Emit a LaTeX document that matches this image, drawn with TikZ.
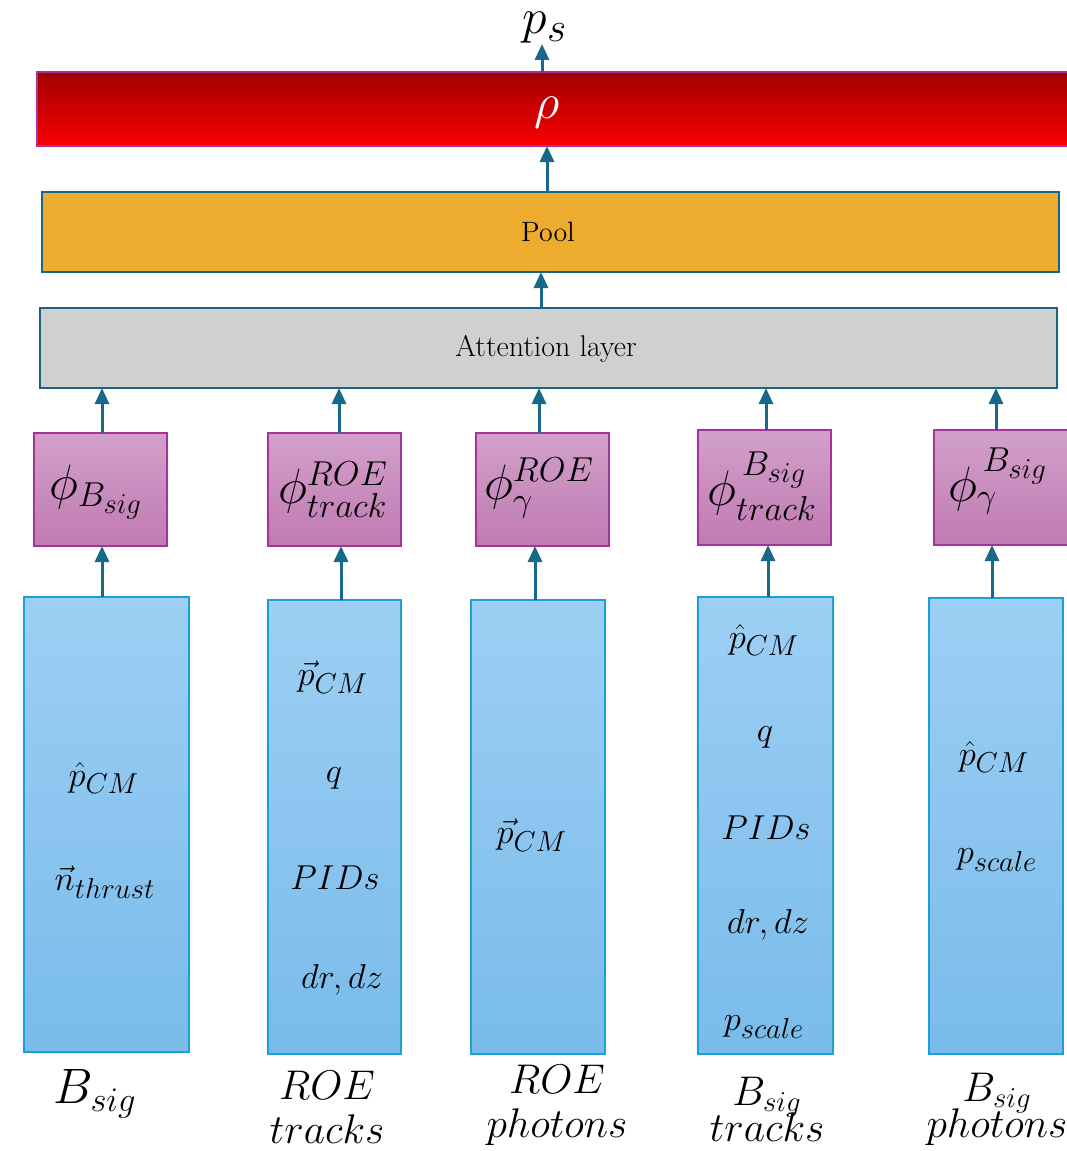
\documentclass[tikz,border=0pt]{standalone}
\usepackage{amsmath}
\usetikzlibrary{arrows.meta}
\DeclareMathSizes{18.5}{18.5}{14}{11}
\DeclareMathSizes{19.5}{19.5}{14.5}{11.5}
\DeclareMathSizes{24}{24}{18}{14}
\DeclareMathSizes{25}{25}{18.5}{14.5}
\DeclareMathSizes{26}{26}{19.5}{15}
\definecolor{arrowc}{HTML}{17688A}
\definecolor{boxedge}{HTML}{1A6585}
\definecolor{poolc}{HTML}{EDAC2D}
\definecolor{attc}{HTML}{D0D0D0}
\definecolor{phiedge}{HTML}{A8329A}
\definecolor{phitop}{HTML}{D2A0CA}
\definecolor{phibot}{HTML}{C07AB3}
\definecolor{blueedge}{HTML}{1AA0D8}
\definecolor{bluetop}{HTML}{9DCFF4}
\definecolor{bluebot}{HTML}{79BBEA}
\definecolor{redtop}{HTML}{A00000}
\definecolor{redmid}{HTML}{EA0000}
\definecolor{redbot}{HTML}{FA0000}
\begin{document}
\begin{tikzpicture}[x=0.5pt,y=-0.5pt,
  sz/.style 2 args={minimum width=#1*0.5pt, minimum height=#2*0.5pt, inner sep=0pt, outer sep=0pt},
  layerbox/.style={draw=boxedge, line width=1.2pt},
  redbox/.style={draw=phiedge, line width=1pt, top color=redtop, middle color=redmid, bottom color=redbot},
  phibox/.style={draw=phiedge, line width=1pt, top color=phitop, bottom color=phibot},
  bluebox/.style={draw=blueedge, line width=1pt, top color=bluetop, bottom color=bluebot},
  arr/.style={draw=arrowc, line width=1.5pt, -{Triangle[width=7pt,length=8pt]}},
  feat/.style={font=\fontsize{18.5}{22}\selectfont, inner sep=0pt},
  phit/.style={font=\fontsize{25}{28}\selectfont, inner sep=0pt},
  lab/.style={font=\fontsize{19.5}{22}\selectfont, align=center, inner sep=0pt},
]
\useasboundingbox (0,0) rectangle (1066,1151);

% top layers
\node[redbox, sz={1035}{74}] (rho) at (554.5,109) {};
\node[text=white, font=\fontsize{24}{26}\selectfont, inner sep=0pt] (rhot) at (547,113) {$\rho$};
\node[font=\fontsize{26}{28}\selectfont, inner sep=0pt] (ps) at (545,28) {$p_s$};
\node[layerbox, fill=poolc, sz={1017}{80}] (pool) at (550.5,232) {};
\node[font=\fontsize{14}{16}\selectfont] (poolt) at (548,232) {Pool};
\node[layerbox, fill=attc, sz={1017}{80}] (att) at (548.5,348) {};
\node[font=\fontsize{15}{17}\selectfont] (attt) at (546,349) {Attention layer};

% phi boxes
\node[phibox, sz={133}{113}] (phi1) at (100.5,489.5) {};
\node[phibox, sz={133}{113}] (phi2) at (334.5,489.5) {};
\node[phibox, sz={133}{113}] (phi3) at (542.5,489.5) {};
\node[phibox, sz={133}{115}] (phi4) at (764.5,487.5) {};
\node[phibox, sz={140}{115}] (phi5) at (1004,487.5) {};
\node[phit] (phi1t) at (96,492) {$\phi_{B_{sig}}$};
\node[phit] (phi2t) at (333,490) {$\phi^{ROE}_{track}$};
\node[phit] (phi3t) at (539,488) {$\phi^{ROE}_{\gamma}$};
\node[phit] (phi4t) at (762,486) {$\phi^{\,B_{sig}}_{track}$};
\node[phit] (phi5t) at (998,481) {$\phi^{\,B_{sig}}_{\gamma}$};

% blue boxes
\node[bluebox, sz={165}{455}] (b1) at (106.5,824.5) {};
\node[bluebox, sz={133}{454}] (b2) at (334.5,827) {};
\node[bluebox, sz={134}{454}] (b3) at (538,827) {};
\node[bluebox, sz={135}{457}] (b4) at (765.5,825.5) {};
\node[bluebox, sz={134}{456}] (b5) at (996,826) {};

% features
\node[feat] (f11) at (104,778) {$\hat{p}_{CM}$};
\node[feat] (f12) at (105,882) {$\vec{n}_{thrust}$};
\node[feat] (f21) at (333,677) {$\vec{p}_{CM}$};
\node[feat] (f22) at (334,778) {$q$};
\node[feat] (f23) at (335,878) {$PIDs$};
\node[feat] (f24) at (342,980) {$dr,dz$};
\node[feat] (f31) at (532,835) {$\vec{p}_{CM}$};
\node[feat] (f41) at (764,640) {$\hat{p}_{CM}$};
\node[feat] (f42) at (765,737) {$q$};
\node[feat] (f43) at (766,828) {$PIDs$};
\node[feat] (f44) at (768,925) {$dr,dz$};
\node[feat] (f45) at (764,1027) {$p_{scale}$};
\node[feat] (f51) at (994,757) {$\hat{p}_{CM}$};
\node[feat] (f52) at (997,860) {$p_{scale}$};

% labels
\node[font=\fontsize{25}{28}\selectfont, inner sep=0pt] (l1) at (95,1094) {$B_{sig}$};
\node[lab] (l2) at (327,1107) {$ROE$\\$tracks$};
\node[lab] (l3) at (557,1105) {$ROE$\\$photons$};
\node[lab] (l4) at (767,1109) {$B_{sig}$\\[-4pt]$tracks$};
\node[lab] (l5) at (997,1109) {$B_{sig}$\\[-4pt]$photons$};

% connectors
\draw[arr] ([xshift=-12.5*0.5pt]rho.north) -- ([xshift=-12.5*0.5pt]rho.north |- ps.south);
\draw[arr] ([xshift=-3.5*0.5pt]pool.north) -- ([xshift=-3.5*0.5pt]pool.north |- rho.south);
\draw[arr] ([xshift=-7.5*0.5pt]att.north) -- ([xshift=-7.5*0.5pt]att.north |- pool.south);
\draw[arr] ([xshift=1.5*0.5pt]phi1.north) -- ([xshift=1.5*0.5pt]phi1.north |- att.south);
\draw[arr] ([xshift=4.5*0.5pt]phi2.north) -- ([xshift=4.5*0.5pt]phi2.north |- att.south);
\draw[arr] ([xshift=-3.5*0.5pt]phi3.north) -- ([xshift=-3.5*0.5pt]phi3.north |- att.south);
\draw[arr] ([xshift=1.5*0.5pt]phi4.north) -- ([xshift=1.5*0.5pt]phi4.north |- att.south);
\draw[arr] ([xshift=-8*0.5pt]phi5.north) -- ([xshift=-8*0.5pt]phi5.north |- att.south);
\draw[arr] ([xshift=-4.5*0.5pt]b1.north) -- ([xshift=-4.5*0.5pt]b1.north |- phi1.south);
\draw[arr] ([xshift=6.5*0.5pt]b2.north) -- ([xshift=6.5*0.5pt]b2.north |- phi2.south);
\draw[arr] ([xshift=-3*0.5pt]b3.north) -- ([xshift=-3*0.5pt]b3.north |- phi3.south);
\draw[arr] ([xshift=2.5*0.5pt]b4.north) -- ([xshift=2.5*0.5pt]b4.north |- phi4.south);
\draw[arr] ([xshift=-4*0.5pt]b5.north) -- ([xshift=-4*0.5pt]b5.north |- phi5.south);
\end{tikzpicture}
\end{document}
